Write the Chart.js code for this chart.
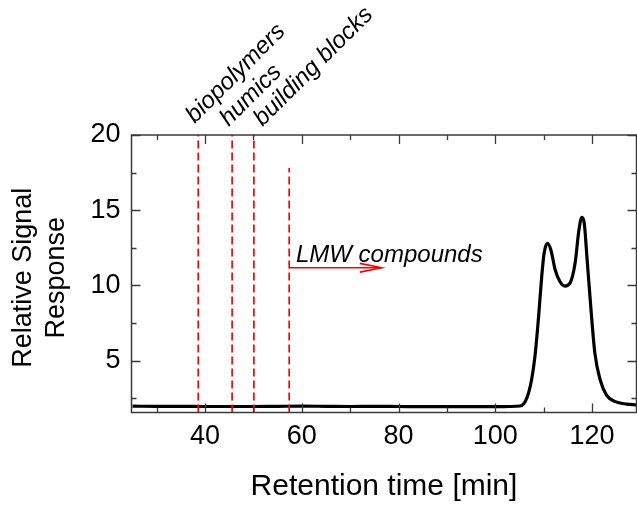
<!DOCTYPE html>
<html>
<head>
<meta charset="utf-8">
<script src="https://cdn.jsdelivr.net/npm/chart.js@4.4.1/dist/chart.umd.min.js"></script>
<style>
  html, body { margin: 0; padding: 0; background: #ffffff; }
  #wrap { width: 637px; height: 506px; position: relative; }
</style>
</head>
<body>
<div id="wrap"><canvas id="c" width="637" height="506"></canvas></div>
<script>
// ---------------- DATA ----------------
const retentionTime = [25, 30, 35, 40, 45, 50, 55, 60, 65, 70, 75, 80, 85, 90, 95, 100, 103, 105.1, 106.5, 107.5, 108.2, 108.9, 109.6, 110.1, 110.8, 111.5, 112.4, 113.4, 114.4, 115.5, 116.5, 117.3, 117.9, 118.4, 119.0, 119.8, 120.6, 121.7, 123.0, 124.8, 127.2, 129.2];
const signalResponse = [1.98, 1.97, 1.97, 1.96, 1.96, 1.96, 1.97, 1.98, 1.97, 1.96, 1.97, 1.96, 1.95, 1.95, 1.95, 1.95, 1.96, 1.99, 2.50, 3.72, 5.27, 7.70, 10.58, 12.14, 12.80, 12.36, 11.03, 10.25, 9.96, 10.18, 11.47, 13.68, 14.53, 14.13, 11.69, 8.37, 5.49, 3.72, 2.72, 2.28, 2.12, 2.06];

// fraction boundaries (dashed red lines)
const fractionNames = ["biopolymers", "humics", "building blocks"];
const fractionLineX = [38.6, 45.6, 50.1, 57.4];
const fractionLineTop = [20, 20, 20, 17.8];
const fractionLabelX = [37.9, 44.9, 51.9];
const fractionLabelY = [20.73, 20.53, 20.53];

// LMW arrow and label
const lmwLabel = "LMW compounds";
const lmwArrowX = [57.4, 76.5];
const lmwArrowY = 11.18;
const lmwHeadBackX = 72.0;
const lmwHeadHalf = 0.29;
const lmwLabelPos = [58.8, 11.58];

// axes
const xRange = [24.8, 129.2];
const yRange = [1.56, 20];
const xMajorTicks = [40, 60, 80, 100, 120];
const xMinorTicks = [30, 50, 70, 90, 110];
const yMajorTicks = [5, 10, 15, 20];
const yMinorTicks = [2.5, 7.5, 12.5, 17.5];
const xTitle = "Retention time [min]";
const yTitle = ["Relative Signal", "Response"];

// ---------------- BUILD ----------------
const FONT = "'Liberation Sans', Arial, Helvetica, sans-serif";
const RED = "#ff0000";

const trace = retentionTime.map((x, i) => ({ x: x, y: signalResponse[i] }));

const datasets = [];
fractionLineX.forEach((x, i) => {
  datasets.push({
    data: [{ x: x, y: yRange[0] }, { x: x, y: fractionLineTop[i] }],
    borderColor: RED, borderWidth: 1.7, borderDash: [8, 4],
    pointRadius: 0, fill: false, order: 1, clip: false
  });
});
datasets.push({
  data: [{ x: lmwArrowX[0], y: lmwArrowY }, { x: lmwArrowX[1], y: lmwArrowY }],
  borderColor: RED, borderWidth: 1.6, pointRadius: 0, fill: false, order: 1
});
datasets.push({
  data: [{ x: lmwHeadBackX, y: lmwArrowY + lmwHeadHalf }, { x: lmwArrowX[1], y: lmwArrowY }, { x: lmwHeadBackX, y: lmwArrowY - lmwHeadHalf }],
  borderColor: RED, borderWidth: 1.6, pointRadius: 0, fill: false, order: 1
});
datasets.push({
  data: trace,
  borderColor: "#000000", borderWidth: 3.2, pointRadius: 0, fill: false,
  cubicInterpolationMode: "monotone", order: 2
});

const framePlugin = {
  id: "frame",
  afterDraw(chart) {
    const ctx = chart.ctx;
    const a = chart.chartArea;
    const xs = chart.scales.x, ys = chart.scales.y;
    ctx.save();
    ctx.strokeStyle = "#3a3a3a";
    ctx.lineWidth = 1.5;
    ctx.strokeRect(a.left, a.top, a.right - a.left, a.bottom - a.top);
    ctx.lineWidth = 1.3;
    const tick = (vals, len, horiz) => {
      vals.forEach(v => {
        ctx.beginPath();
        if (horiz) {
          const p = Math.round(xs.getPixelForValue(v)) + 0.5;
          ctx.moveTo(p, a.bottom); ctx.lineTo(p, a.bottom - len);
          ctx.moveTo(p, a.top); ctx.lineTo(p, a.top + len);
        } else {
          const p = Math.round(ys.getPixelForValue(v)) + 0.5;
          ctx.moveTo(a.left, p); ctx.lineTo(a.left + len, p);
          ctx.moveTo(a.right, p); ctx.lineTo(a.right - len, p);
        }
        ctx.stroke();
      });
    };
    tick(xMajorTicks, 9, true);
    tick(xMinorTicks, 5, true);
    tick(yMajorTicks, 9, false);
    tick(yMinorTicks, 5, false);

    // y axis title (two lines, rotated)
    ctx.fillStyle = "#000";
    ctx.font = "27px " + FONT;
    ctx.textAlign = "center";
    ctx.textBaseline = "middle";
    const midY = (a.top + a.bottom) / 2 + 4;
    [23.3, 56.7].forEach((cx, i) => {
      ctx.save();
      ctx.translate(cx, midY);
      ctx.rotate(-Math.PI / 2);
      ctx.fillText(yTitle[i], 0, 0);
      ctx.restore();
    });

    // annotations text
    ctx.textAlign = "left";
    ctx.textBaseline = "alphabetic";
    ctx.font = "italic 24px " + FONT;
    fractionNames.forEach((name, i) => {
      const px = xs.getPixelForValue(fractionLabelX[i]);
      const py = ys.getPixelForValue(fractionLabelY[i]);
      ctx.save();
      ctx.translate(px, py);
      ctx.rotate(-Math.PI / 4);
      ctx.fillText(name, 0, 0);
      ctx.restore();
    });
    ctx.font = "italic 24px " + FONT;
    ctx.fillText(lmwLabel, xs.getPixelForValue(lmwLabelPos[0]), ys.getPixelForValue(lmwLabelPos[1]));
    ctx.restore();
  }
};

new Chart(document.getElementById("c"), {
  type: "line",
  data: { datasets: datasets },
  options: {
    responsive: false,
    animation: false,
    events: [],
    layout: { padding: { top: 135, right: 0.5, left: 0, bottom: 0 } },
    plugins: { legend: { display: false }, tooltip: { enabled: false }, title: { display: false } },
    scales: {
      x: {
        type: "linear", min: xRange[0], max: xRange[1],
        grid: { display: false, drawTicks: false }, border: { display: false },
        afterBuildTicks: s => { s.ticks = xMajorTicks.map(v => ({ value: v })); },
        afterFit: s => { s.height = 93.5; },
        ticks: { color: "#000", font: { family: FONT, size: 27 }, padding: 8, maxRotation: 0, autoSkip: false, callback: v => String(v) },
        title: { display: true, text: xTitle, color: "#000", font: { family: FONT, size: 30 }, padding: { top: 0, bottom: 1 } }
      },
      y: {
        type: "linear", min: yRange[0], max: yRange[1],
        grid: { display: false, drawTicks: false }, border: { display: false },
        afterBuildTicks: s => { s.ticks = yMajorTicks.map(v => ({ value: v })); },
        afterFit: s => { s.width = 131.5; },
        ticks: { color: "#000", font: { family: FONT, size: 27 }, padding: 11, autoSkip: false, callback: v => String(v) },
        title: { display: false }
      }
    }
  },
  plugins: [framePlugin]
});
</script>
</body>
</html>
